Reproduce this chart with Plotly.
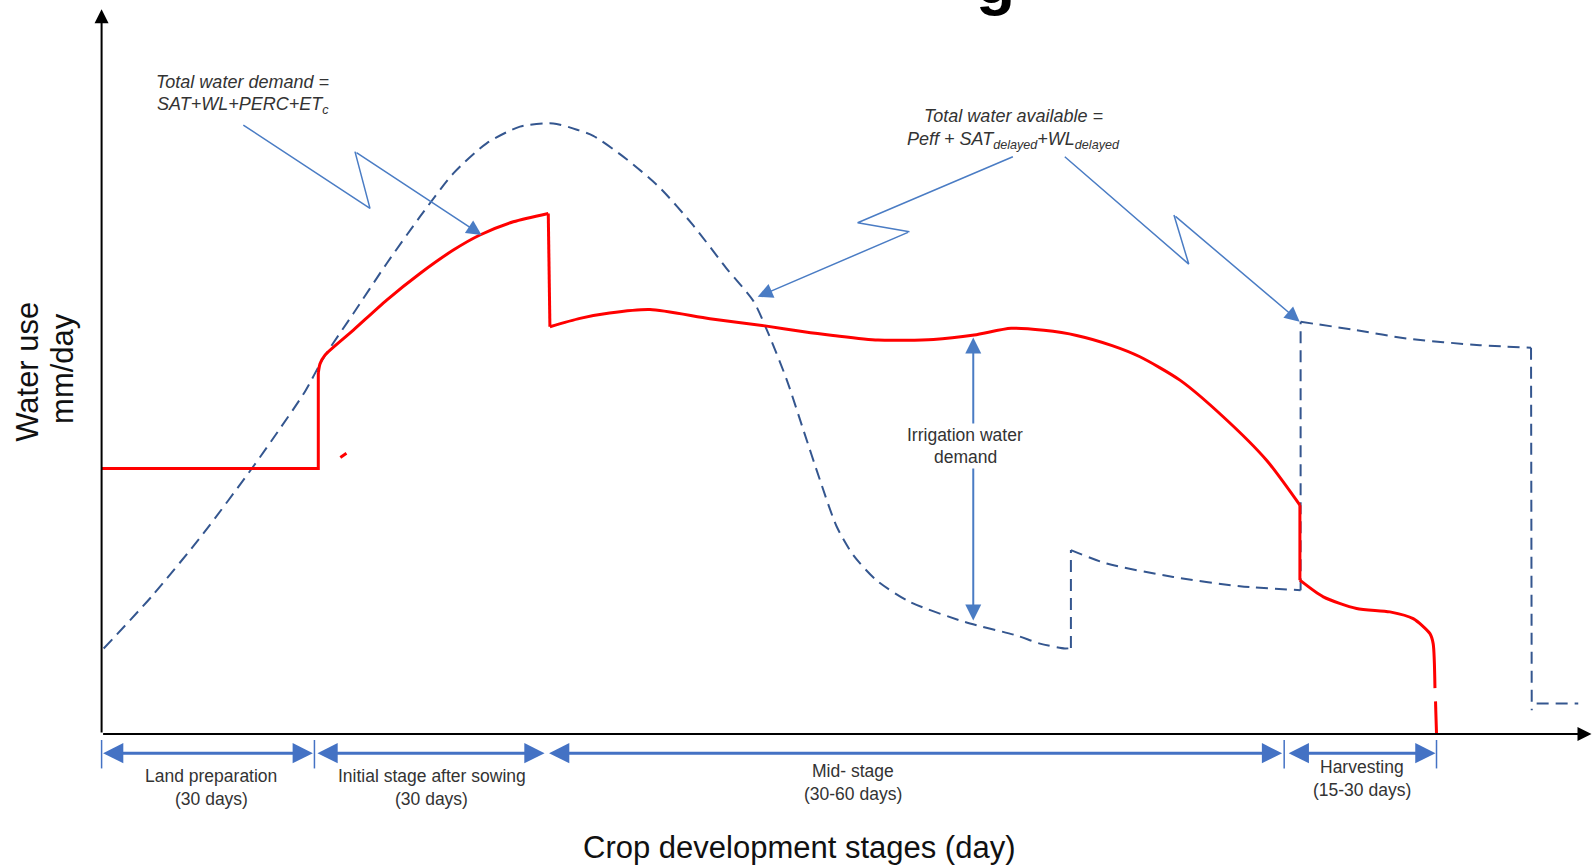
import plotly.graph_objects as go

# ---------------- data (days since start of land preparation, mm/day) ----------------
# Total water demand (red, solid) – pieces separated by vertical jumps
demand_flat_day = [0, 30.47, 30.47]
demand_flat_mm = [13.05, 13.05, 17.75]
demand_init_day = [30.47, 30.71, 31.41, 35.4, 40.09, 44.77, 49.46, 53.2, 57.89, 62.81]
demand_init_mm = [17.75, 18.2, 18.63, 19.86, 21.34, 22.65, 23.8, 24.54, 25.19, 25.6]
demand_drop1_day = [62.81, 63.04]
demand_drop1_mm = [25.6, 20.03]
demand_mid_day = [63.04, 67.27, 71.43, 77.11, 85.54, 93.29, 98.76, 102.86, 109.17, 116.97,
                  122.7, 127.9, 132.5, 137.1, 142.1, 146.0, 151.63, 157.71, 163.81, 168.5]
demand_mid_mm = [20.03, 20.44, 20.7, 20.87, 20.42, 20.07, 19.78, 19.6, 19.37, 19.4,
                 19.62, 19.95, 19.85, 19.6, 19.1, 18.55, 17.4, 15.6, 13.46, 11.25]
demand_drop2_day = [168.5, 168.5]
demand_drop2_mm = [11.25, 7.56]
demand_harv_day = [168.5, 171.79, 176.47, 181.16, 184.43, 186.79, 187.24, 187.49]
demand_harv_mm = [7.56, 6.74, 6.17, 6.0, 5.67, 4.93, 4.44, 2.25]
demand_tail_day = [187.57, 187.71]
demand_tail_mm = [1.6, 0.0]
demand_stray_day = [33.57, 34.43]
demand_stray_mm = [13.6, 13.8]

# Total water available (blue, dashed)
avail_main_day = [0.29, 7.14, 14.29, 21.43, 25.09, 28.57, 31.17, 35.4, 40.09, 44.77, 49.46,
                  54.14, 58.83, 63.51, 67.03, 69.14, 73.83, 78.51, 83.2, 87.89, 91.64, 93.51,
                  96.33, 98.67, 101.01, 103.36, 105.7, 108.97, 113.67, 121.43, 128.57, 131.94,
                  135.46, 136.3]
avail_main_mm = [4.2, 6.8, 9.85, 13.2, 15.02, 16.82, 18.47, 20.68, 23.14, 25.44, 27.57,
                 29.05, 29.87, 30.03, 29.7, 29.42, 28.27, 26.86, 25.01, 22.89, 21.3, 19.9,
                 17.43, 14.96, 12.49, 10.2, 8.79, 7.55, 6.49, 5.5, 4.85, 4.44,
                 4.2, 4.22]
avail_step1_day = [136.3, 136.3]
avail_step1_mm = [4.22, 9.04]
avail_late_day = [136.3, 141.33, 150.69, 160.07, 168.6]
avail_late_mm = [9.04, 8.38, 7.72, 7.26, 7.07]
avail_step2_day = [168.6, 168.6]
avail_step2_mm = [7.07, 20.27]
avail_harv_day = [168.6, 176.47, 183.5, 193.81, 201.0]
avail_harv_mm = [20.27, 19.86, 19.45, 19.12, 19.0]
avail_drop_day = [201.0, 201.1]
avail_drop_mm = [19.0, 1.16]
avail_tail_day = [201.79, 207.64]
avail_tail_mm = [1.49, 1.49]

# Crop development stages (start, end in days) and labels
stage_start = [0.0, 30.14, 62.71, 166.71]
stage_end = [29.71, 62.29, 166.0, 187.57]
stage_names = ["Land preparation", "Initial stage after sowing", "Mid- stage", "Harvesting"]
stage_durations = ["(30 days)", "(30 days)", "(30-60 days)", "(15-30 days)"]
stage_label_x = [15.43, 46.43, 105.71, 177.29]
stage_label_y = [-2.05, -2.05, -1.85, -1.65]
stage_ticks = [0.0, 29.93, 166.29, 187.71]

# Irrigation water demand bracket (day, lower, upper)
irr_day = 122.57
irr_low, irr_high = 5.5, 19.5

# --------------------------------------------------------------------------------------
RED = "#FF0000"
BLUE_DASH = "#34568F"
BLUE_ARROW = "#4A7CC4"
TEXT = "#333333"
FONT = "Arial, Liberation Sans, sans-serif"

fig = go.Figure()


def seg(xs, ys, color, width, dash=None, shape="spline"):
    fig.add_trace(go.Scatter(
        x=xs, y=ys, mode="lines",
        line=dict(color=color, width=width, dash=dash, shape=shape, smoothing=0.7),
        hoverinfo="skip", showlegend=False))


def arrow(x0, y0, x1, y1, color, width, size, side="end"):
    fig.add_annotation(
        x=x1, y=y1, ax=x0, ay=y0, xref="x", yref="y", axref="x", ayref="y",
        text="", showarrow=True, arrowhead=2, startarrowhead=2,
        arrowsize=size, startarrowsize=size, arrowwidth=width, arrowcolor=color,
        arrowside=side, standoff=0, startstandoff=0)


def label(x, y, s, size=15, color=TEXT, italic=False, bg=None, angle=0):
    fig.add_annotation(
        x=x, y=y, xref="x", yref="y", text=s, showarrow=False,
        font=dict(family=FONT, size=size, color=color,
                  style="italic" if italic else "normal"),
        bgcolor=bg, textangle=angle, xanchor="center", yanchor="middle")


DASH = "12px,7px"
# available water (blue dashed)
seg(avail_main_day, avail_main_mm, BLUE_DASH, 2, DASH)
seg(avail_step1_day, avail_step1_mm, BLUE_DASH, 2, DASH, "linear")
seg(avail_late_day, avail_late_mm, BLUE_DASH, 2, DASH)
seg(avail_step2_day, avail_step2_mm, BLUE_DASH, 2, DASH, "linear")
seg(avail_harv_day, avail_harv_mm, BLUE_DASH, 2, DASH)
seg(avail_drop_day, avail_drop_mm, BLUE_DASH, 2, DASH, "linear")
seg(avail_tail_day, avail_tail_mm, BLUE_DASH, 2, DASH, "linear")

# demand (red)
seg(demand_flat_day, demand_flat_mm, RED, 3, None, "linear")
seg(demand_init_day, demand_init_mm, RED, 3)
seg(demand_drop1_day, demand_drop1_mm, RED, 3, None, "linear")
seg(demand_mid_day, demand_mid_mm, RED, 3)
seg(demand_drop2_day, demand_drop2_mm, RED, 3, None, "linear")
seg(demand_harv_day, demand_harv_mm, RED, 3)
seg(demand_tail_day, demand_tail_mm, RED, 3, None, "linear")
seg(demand_stray_day, demand_stray_mm, RED, 3, None, "linear")

# lightning-bolt pointers
bolt_left_day = [19.93, 37.74, 35.63]
bolt_left_mm = [29.95, 25.85, 28.64]
bolt_r1_day = [128.14, 106.31, 113.6]
bolt_r1_mm = [28.39, 25.14, 24.7]
bolt_r2_day = [135.44, 152.87, 150.79]
bolt_r2_mm = [28.39, 23.11, 25.52]
seg(bolt_left_day, bolt_left_mm, BLUE_ARROW, 1.5, None, "linear")
seg(bolt_r1_day, bolt_r1_mm, BLUE_ARROW, 1.5, None, "linear")
seg(bolt_r2_day, bolt_r2_mm, BLUE_ARROW, 1.5, None, "linear")
arrow(bolt_left_day[-1], bolt_left_mm[-1], 53.43, 24.54, BLUE_ARROW, 1.5, 2.0)
arrow(bolt_r1_day[-1], bolt_r1_mm[-1], 92.26, 21.5, BLUE_ARROW, 1.5, 2.0)
arrow(bolt_r2_day[-1], bolt_r2_mm[-1], 168.47, 20.27, BLUE_ARROW, 1.5, 2.0)

# irrigation water demand bracket
arrow(irr_day, irr_low, irr_day, irr_high, BLUE_ARROW, 2, 1.6, "end+start")
label(121.43, 14.7, "Irrigation water", 17.5, bg="white")
label(121.43, 13.6, "demand", 17.5, bg="white")

# stage arrows
for s0, s1 in zip(stage_start, stage_end):
    arrow(s0, -0.95, s1, -0.95, "#4472C4", 3, 1.35, "end+start")
for lx, name, dur, ly in zip(stage_label_x, stage_names, stage_durations, stage_label_y):
    label(lx, ly, name, 17.5)
    label(lx, ly - 1.13, dur, 17.5)
for t in stage_ticks:
    fig.add_shape(type="line", x0=t, x1=t, y0=-0.3, y1=-1.7, xref="x", yref="y",
                  line=dict(color="#4472C4", width=1.5))

# axes with arrowheads
arrow(0, 0, 0, 35.65, "black", 2, 1.4)
arrow(0, 0, 209.5, 0, "black", 2, 1.4)

# annotation texts
label(19.86, 32.05, "Total water demand =", 18, italic=True)
label(19.86, 30.9, "SAT+WL+PERC+ET<sub>c</sub>", 18, italic=True)
label(128.29, 30.4, "Total water available =", 18, italic=True)
label(128.29, 29.2, "Peff + SAT<sub>delayed</sub>+WL<sub>delayed</sub>", 18, italic=True)

# axis titles
label(-10.43, 17.83, "Water use", 31, color="#111111", angle=-90)
label(-5.43, 18.0, "mm/day", 31, color="#111111", angle=-90)
label(98.14, -5.6, "Crop development stages (day)", 31, color="#111111")

# cropped title fragment at the very top
fig.add_annotation(x=125.7, y=1, xref="x", yref="paper", text="<b>g</b>",
                   showarrow=False, xanchor="center", yanchor="bottom", yshift=-19,
                   font=dict(family=FONT, size=64, color="black"))

fig.update_layout(
    width=1593, height=865,
    margin=dict(l=0, r=0, t=0, b=0),
    paper_bgcolor="white", plot_bgcolor="white",
    xaxis=dict(range=[-100 / 7, 1468 / 7], visible=False, fixedrange=True),
    yaxis=dict(range=[(722 - 851) / 20, 722 / 20], visible=False, fixedrange=True),
    showlegend=False,
)

fig.write_html("out.html", config={"displayModeBar": False},
               post_script="document.body.style.margin='0px';")
